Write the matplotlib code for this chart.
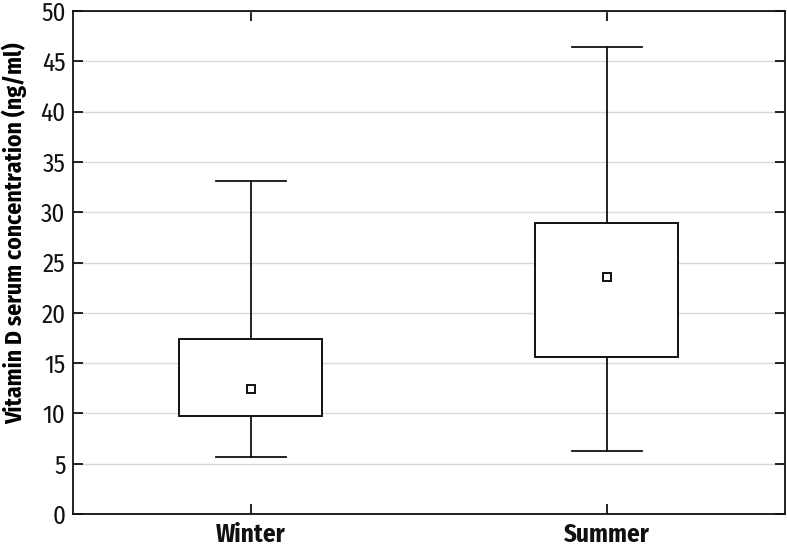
import matplotlib
matplotlib.use('Agg')
import matplotlib.pyplot as plt

plt.rcParams['font.family'] = ['Fira Sans Condensed', 'DejaVu Sans']

seasons = ['Winter', 'Summer']
whisker_low = [5.65, 6.3]
q1 = [9.7, 15.65]
mean = [12.45, 23.6]
q3 = [17.4, 28.95]
whisker_high = [33.15, 46.45]

stats = []
for i in range(len(seasons)):
    stats.append({'label': seasons[i], 'whislo': whisker_low[i], 'q1': q1[i],
                  'med': mean[i], 'q3': q3[i], 'whishi': whisker_high[i],
                  'mean': mean[i], 'fliers': []})

fig = plt.figure(figsize=(7.87, 5.47), dpi=100)
ax = fig.add_axes([72.5/787, 33/547, 712.5/787, 503/547])

lw = 1.3
ax.bxp(stats, positions=[1, 2], widths=0.402, showmeans=True, showfliers=False,
       patch_artist=True,
       boxprops=dict(facecolor='white', edgecolor='#111111', linewidth=1.4),
       whiskerprops=dict(color='#111111', linewidth=lw),
       capprops=dict(color='#111111', linewidth=lw),
       medianprops=dict(linewidth=0),
       meanprops=dict(marker='s', markerfacecolor='white', markeredgecolor='#111111',
                      markersize=6, markeredgewidth=1.4),
       capwidths=0.196, zorder=3)

ax.set_xlim(0.5, 2.5)
ax.set_ylim(0, 50)
ax.set_yticks(range(0, 51, 5))
ax.grid(True, axis='y', color='#d9d9d9', linewidth=1.0, zorder=0)
ax.set_axisbelow(True)
ax.tick_params(direction='in', length=7, width=lw, top=True, right=True,
               colors='#111111')
ax.tick_params(axis='y', labelsize=18, pad=5)
ax.tick_params(axis='x', labelsize=18, pad=6)
for lab in ax.get_xticklabels():
    lab.set_fontweight('bold')
for s in ax.spines.values():
    s.set_linewidth(lw)
    s.set_color('#111111')
ax.set_ylabel('Vitamin D serum concentration (ng/ml)', fontsize=17,
              fontweight='bold')
ax.yaxis.set_label_coords(-0.064, 0.559)

fig.savefig('out.png', dpi=100)
